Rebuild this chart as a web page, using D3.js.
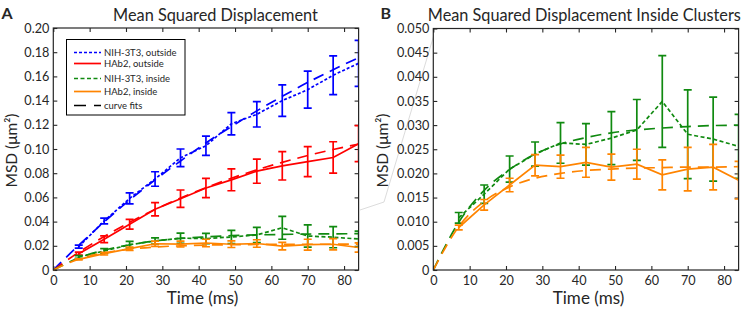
<!DOCTYPE html>
<html><head><meta charset="utf-8">
<script src="https://cdn.jsdelivr.net/npm/d3@7/dist/d3.min.js"></script>
<style>
body{margin:0;background:#fff}
svg{display:block}
text{font-family:Lato,"Open Sans",sans-serif;fill:#262626}
</style>
</head><body>
<svg id="c" width="742" height="309"></svg>
<script>
// ---- data ----
const times = [7,14,21,28,35,42,49,56,63,70,77,84];
const fitTimes = [0,7,14,21,28,35,42,49,56,63,70,77,84];

const nihOut    = [0.0193,0.0405,0.0592,0.0752,0.0927,0.1027,0.1208,0.1287,0.1400,0.1490,0.1610,0.1708];
const nihOutErr = [0.0012,0.0023,0.0045,0.0060,0.0073,0.0080,0.0092,0.0105,0.0130,0.0153,0.0160,0.0190];
const hab2Out    = [0.0135,0.0254,0.0378,0.0502,0.0589,0.0678,0.0745,0.0817,0.0861,0.0895,0.0930,0.1044];
const hab2OutErr = [0.0012,0.0028,0.0040,0.0055,0.0072,0.0080,0.0090,0.0100,0.0117,0.0124,0.0130,0.0149];
const nihIn    = [0.0108,0.0157,0.0209,0.0240,0.0263,0.0260,0.0273,0.0290,0.0349,0.0281,0.0271,0.0256];
const nihInErr = [0.0011,0.0019,0.0027,0.0025,0.0042,0.0043,0.0055,0.0063,0.0095,0.0092,0.0087,0.0066];
const hab2In    = [0.0088,0.0135,0.0176,0.0217,0.0214,0.0223,0.0213,0.0219,0.0197,0.0209,0.0213,0.0186];
const hab2InErr = [0.0005,0.0011,0.0014,0.0022,0.0024,0.0031,0.0027,0.0031,0.0031,0.0045,0.0047,0.0039];

const fitNihOut  = [0,0.0205,0.0398,0.0578,0.0745,0.0901,0.1050,0.1186,0.1315,0.1435,0.1550,0.1655,0.1755];
const fitHab2Out = [0,0.0146,0.0277,0.0394,0.0500,0.0595,0.0680,0.0758,0.0828,0.0890,0.0946,0.0996,0.1041];
const fitNihIn   = [0,0.0099,0.0165,0.0208,0.0240,0.0261,0.0274,0.0284,0.0290,0.0294,0.0297,0.0299,0.0300];
const fitHab2In  = [0,0.0090,0.0142,0.0172,0.0190,0.0200,0.0206,0.0209,0.0211,0.0212,0.0213,0.0213,0.0214];

const xTickValues = [0,10,20,30,40,50,60,70,80];
const xTickLabels = ["0","10","20","30","40","50","60","70","80"];
const yTickValuesA = [0,0.02,0.04,0.06,0.08,0.10,0.12,0.14,0.16,0.18,0.20];
const yTickLabelsA = ["0","0.02","0.04","0.06","0.08","0.10","0.12","0.14","0.16","0.18","0.20"];
const yTickValuesB = [0,0.005,0.010,0.015,0.020,0.025,0.030,0.035,0.040,0.045,0.050];
const yTickLabelsB = ["0","0.005","0.010","0.015","0.020","0.025","0.030","0.035","0.040","0.045","0.050"];

const legendLabels = ["NIH-3T3, outside","HAb2, outside","NIH-3T3, inside","HAb2, inside","curve fits"];

// ---- styles ----
const C = {blue:"#0000ff", red:"#ff0000", green:"#108a10", orange:"#ff8400", axis:"#262626"};
const series = [
  {v:nihOut, e:nihOutErr, fit:fitNihOut, color:C.blue, dash:"3,2"},
  {v:hab2Out, e:hab2OutErr, fit:fitHab2Out, color:C.red, dash:null},
  {v:nihIn, e:nihInErr, fit:fitNihIn, color:C.green, dash:"4,2.5"},
  {v:hab2In, e:hab2InErr, fit:fitHab2In, color:C.orange, dash:null}
];

const svg = d3.select("#c");

// scale a text's font-size so that it spans a target width
function fitWidth(sel, target){
  const n = sel.node();
  const base = parseFloat(sel.style("font-size"));
  const w = n.getComputedTextLength();
  if (w > 0) sel.style("font-size", (base*target/w).toFixed(2)+"px");
  return sel;
}
// font size for tick labels from the reference width of "0.20" (25 px)
const probe = svg.append("text").style("font-size","12px").text("0.20");
const tickFont = 12*25/probe.node().getComputedTextLength();
probe.remove();

// light gray zoom connector
svg.append("polyline")
  .attr("points","436,28 384,202 360,210")
  .attr("fill","none").attr("stroke","#dcdcdc").attr("stroke-width",1);

function panel(cfg){
  const x = d3.scaleLinear().domain([0,84]).range([cfg.left,cfg.right]);
  const y = d3.scaleLinear().domain([0,cfg.yMax]).range([cfg.bottom,cfg.top]);
  const g = svg.append("g");

  g.append("rect").attr("x",cfg.left).attr("y",cfg.top)
    .attr("width",cfg.right-cfg.left).attr("height",cfg.bottom-cfg.top).attr("fill","#fff");

  const clipId = "clip"+cfg.id;
  svg.append("clipPath").attr("id",clipId).append("rect")
    .attr("x",cfg.left).attr("y",cfg.top-1)
    .attr("width",cfg.right-cfg.left).attr("height",cfg.bottom-cfg.top+2);

  const fmtX = d => xTickLabels[xTickValues.indexOf(d)];
  const fmtY = d => cfg.yLabels[cfg.yValues.indexOf(d)];
  const ax = [
    g.append("g").attr("transform",`translate(0,${cfg.bottom})`)
      .call(d3.axisBottom(x).tickValues(xTickValues).tickFormat(fmtX).tickSize(-4).tickPadding(6)),
    g.append("g").attr("transform",`translate(0,${cfg.top})`)
      .call(d3.axisTop(x).tickValues(xTickValues).tickFormat("").tickSize(-4)),
    g.append("g").attr("transform",`translate(${cfg.left},0)`)
      .call(d3.axisLeft(y).tickValues(cfg.yValues).tickFormat(fmtY).tickSize(-4).tickPadding(4)),
    g.append("g").attr("transform",`translate(${cfg.right},0)`)
      .call(d3.axisRight(y).tickValues(cfg.yValues).tickFormat("").tickSize(-4))
  ];
  ax.forEach(a=>{
    a.select(".domain").remove();
    a.selectAll(".tick line").attr("stroke",C.axis).attr("stroke-width",1.1);
    a.selectAll(".tick text").style("font-size",tickFont.toFixed(2)+"px").attr("fill",C.axis)
      .attr("font-family",null);
  });
  ax.forEach(a=>a.attr("font-family",null).attr("font-size",null));

  const plot = g.append("g").attr("clip-path",`url(#${clipId})`);
  const lineData = d3.line().x((d,i)=>x(times[i])).y(d=>y(d));
  const lineFit = d3.line().x((d,i)=>x(fitTimes[i])).y(d=>y(d)).curve(d3.curveMonotoneX);

  cfg.series.forEach(s=>{
    plot.append("path").datum(s.fit).attr("d",lineFit)
      .attr("fill","none").attr("stroke",s.color).attr("stroke-width",1.7)
      .attr("stroke-dasharray","11,7");
    const eb = plot.append("g").attr("stroke",s.color).attr("stroke-width",1.7);
    s.v.forEach((v,i)=>{
      const xi = x(times[i]), lo = y(v - s.e[i]), hi = y(v + s.e[i]);
      eb.append("line").attr("x1",xi).attr("x2",xi).attr("y1",lo).attr("y2",hi);
      eb.append("line").attr("x1",xi-4).attr("x2",xi+4).attr("y1",lo).attr("y2",lo);
      eb.append("line").attr("x1",xi-4).attr("x2",xi+4).attr("y1",hi).attr("y2",hi);
    });
    plot.append("path").datum(s.v).attr("d",lineData)
      .attr("fill","none").attr("stroke",s.color).attr("stroke-width",1.7)
      .attr("stroke-dasharray",s.dash);
  });

  g.append("rect").attr("x",cfg.left).attr("y",cfg.top)
    .attr("width",cfg.right-cfg.left).attr("height",cfg.bottom-cfg.top)
    .attr("fill","none").attr("stroke",C.axis).attr("stroke-width",1.2);

  fitWidth(g.append("text").attr("x",cfg.titleX).attr("y",20.5).attr("text-anchor","middle")
    .style("font-size","15px").text(cfg.title), cfg.titleW);
  g.append("text").attr("x",cfg.letterX).attr("y",18.5)
    .style("font-size","16px").style("font-weight","bold").attr("fill","#000").text(cfg.letter);
  fitWidth(g.append("text").attr("x",cfg.timeX).attr("y",304).attr("text-anchor","middle")
    .style("font-size","14px").text("Time (ms)"), 71.5);
  fitWidth(g.append("text").attr("transform",`translate(${cfg.ylabX},150.5) rotate(-90)`).attr("text-anchor","middle")
    .style("font-size","14px").text("MSD (μm²)"), 74);
  return {x,y,g};
}

panel({id:"A", left:53.3, right:358.6, top:28, bottom:270, yMax:0.2,
  yValues:yTickValuesA, yLabels:yTickLabelsA, series:series,
  title:"Mean Squared Displacement", titleX:215.5, titleW:205, timeX:202.5,
  letter:"A", letterX:1.5, ylabX:16.5});
panel({id:"B", left:433.3, right:738.6, top:28.5, bottom:270, yMax:0.05,
  yValues:yTickValuesB, yLabels:yTickLabelsB, series:series.slice(2),
  title:"Mean Squared Displacement Inside Clusters", titleX:584.3, titleW:313, timeX:588.5,
  letter:"B", letterX:380.5, ylabX:387.5});

// legend (panel A)
const lg = svg.append("g");
lg.append("rect").attr("x",66.5).attr("y",39.5).attr("width",118.5).attr("height",75.5)
  .attr("fill","#fff").attr("stroke","#000").attr("stroke-width",1);
const rowsY = [52.5,63.5,78.5,91.5,105.5];
const legStyles = [
  {color:C.blue, dash:"3,2"},{color:C.red, dash:null},{color:C.green, dash:"4,2.5"},
  {color:C.orange, dash:null},{color:"#000", dash:"12,8"}
];
const probe2 = svg.append("text").style("font-size","10px").text(legendLabels[0]);
const legFont = 10*72.5/probe2.node().getComputedTextLength();
probe2.remove();
legendLabels.forEach((t,i)=>{
  lg.append("line").attr("x1",74).attr("x2",101).attr("y1",rowsY[i]).attr("y2",rowsY[i])
    .attr("stroke",legStyles[i].color).attr("stroke-width",1.7).attr("stroke-dasharray",legStyles[i].dash);
  lg.append("text").attr("x",104).attr("y",rowsY[i]+3.8).style("font-size",legFont.toFixed(2)+"px")
    .attr("fill","#000").text(t);
});
</script>
</body></html>
